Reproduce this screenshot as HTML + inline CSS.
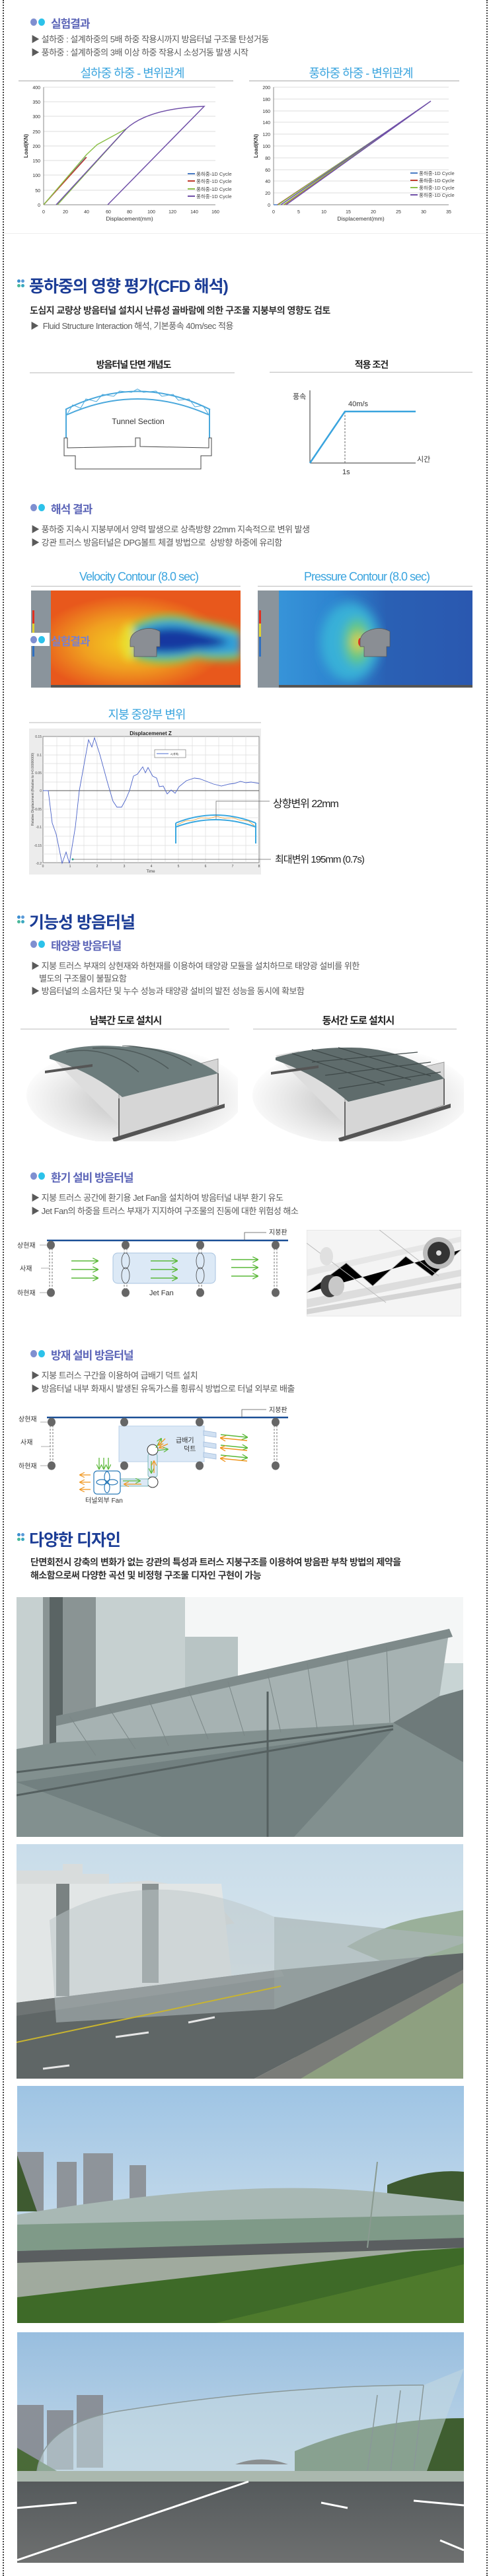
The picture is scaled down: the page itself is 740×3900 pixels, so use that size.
<!DOCTYPE html>
<html><head><meta charset="utf-8">
<style>
*{margin:0;padding:0;box-sizing:border-box}
body{width:740px;height:3900px;position:relative;background:#fff;font-family:"Liberation Sans","Noto Sans CJK KR",sans-serif;overflow:hidden}
.a{position:absolute;white-space:nowrap}
.bl{position:absolute;top:0;height:3900px;width:0;border-left:2px dotted #444}
.h1{font-size:25px;font-weight:bold;color:#1c3d96;letter-spacing:-1px}
.h2{font-size:17px;font-weight:bold;color:#5d66b8;letter-spacing:-1px}
.b{font-size:13px;color:#5a5a5a;letter-spacing:-0.5px}
.ct{font-size:18px;color:#3aa4de;letter-spacing:-1px;text-align:center}
.st{font-size:15px;color:#222;font-weight:bold;text-align:center;letter-spacing:-1px}
.pt{font-size:14px;color:#333;font-weight:bold;letter-spacing:-0.5px}
.d1{position:absolute;width:10px;height:11px;border-radius:50%;background:#7f8fd0}
.d2{position:absolute;width:10px;height:11px;border-radius:50%;background:#2cc2ea}
.q{position:absolute;width:5px;height:5px;border-radius:50%}
.ln{position:absolute;height:1px;background:#aaa}
.ln2{position:absolute;height:2px;background:#ddd}
</style></head><body>
<div class="bl" style="left:4px"></div>
<div class="bl" style="left:736px"></div>

<!-- 실험결과 -->
<div class="d1" style="left:46px;top:28px"></div><div class="d2" style="left:58px;top:28px"></div>
<div class="a h2" style="left:77px;top:22px">실험결과</div>
<div class="a b" style="left:47px;top:49px">▶ 설하중 : 설계하중의 5배 하중 작용시까지 방음터널 구조물 탄성거동</div>
<div class="a b" style="left:47px;top:69px">▶ 풍하중 : 설계하중의 3배 이상 하중 작용시 소성거동 발생 시작</div>
<div class="a ct" style="left:90px;width:220px;top:97px">설하중 하중 - 변위관계</div>
<div class="a ct" style="left:436px;width:220px;top:97px">풍하중 하중 - 변위관계</div>
<div class="ln" style="left:28px;width:325px;top:122px"></div>
<div class="ln" style="left:377px;width:318px;top:122px"></div>
<svg class="a" style="left:0;top:120px" width="740" height="230" viewBox="0 120 740 230" font-family="Liberation Sans,Noto Sans CJK KR,sans-serif">
<g stroke="#ddd" stroke-width="1">
<line x1="66" x2="326" y1="132" y2="132"/><line x1="66" x2="326" y1="154" y2="154"/><line x1="66" x2="326" y1="176" y2="176"/><line x1="66" x2="326" y1="199" y2="199"/><line x1="66" x2="326" y1="221" y2="221"/><line x1="66" x2="326" y1="243" y2="243"/><line x1="66" x2="326" y1="265" y2="265"/><line x1="66" x2="326" y1="288" y2="288"/>
<line x1="414" x2="679" y1="132" y2="132"/><line x1="414" x2="679" y1="150" y2="150"/><line x1="414" x2="679" y1="168" y2="168"/><line x1="414" x2="679" y1="185" y2="185"/><line x1="414" x2="679" y1="203" y2="203"/><line x1="414" x2="679" y1="221" y2="221"/><line x1="414" x2="679" y1="239" y2="239"/><line x1="414" x2="679" y1="257" y2="257"/><line x1="414" x2="679" y1="274" y2="274"/><line x1="414" x2="679" y1="292" y2="292"/>
</g>
<g stroke="#888" stroke-width="1"><line x1="66" x2="66" y1="132" y2="310"/><line x1="66" x2="326" y1="310" y2="310"/><line x1="414" x2="414" y1="132" y2="310"/><line x1="414" x2="679" y1="310" y2="310"/></g>
<g font-size="7" fill="#333" text-anchor="end">
<text x="61" y="135">400</text><text x="61" y="157">350</text><text x="61" y="179">300</text><text x="61" y="202">250</text><text x="61" y="224">200</text><text x="61" y="246">150</text><text x="61" y="268">100</text><text x="61" y="291">50</text><text x="61" y="313">0</text>
<text x="409" y="135">200</text><text x="409" y="153">180</text><text x="409" y="171">160</text><text x="409" y="188">140</text><text x="409" y="206">120</text><text x="409" y="224">100</text><text x="409" y="242">80</text><text x="409" y="260">60</text><text x="409" y="277">40</text><text x="409" y="295">20</text><text x="409" y="313">0</text>
</g>
<g font-size="7" fill="#333" text-anchor="middle">
<text x="66" y="323">0</text><text x="99" y="323">20</text><text x="131" y="323">40</text><text x="164" y="323">60</text><text x="196" y="323">80</text><text x="229" y="323">100</text><text x="261" y="323">120</text><text x="294" y="323">140</text><text x="326" y="323">160</text>
<text x="414" y="323">0</text><text x="452" y="323">5</text><text x="490" y="323">10</text><text x="527" y="323">15</text><text x="565" y="323">20</text><text x="603" y="323">25</text><text x="641" y="323">30</text><text x="679" y="323">35</text>
<text x="196" y="334" font-size="8.5">Displacement(mm)</text><text x="546" y="334" font-size="8.5">Displacement(mm)</text>
<text transform="translate(42,221) rotate(-90)" font-size="8" font-weight="bold">Load(KN)</text>
<text transform="translate(390,221) rotate(-90)" font-size="8" font-weight="bold">Load(KN)</text>
</g>
<g fill="none" stroke-width="1.5">
<polyline stroke="#4a7cc4" points="66,310 130,238"/>
<polyline stroke="#c0392b" points="66,310 131,238"/>
<polyline stroke="#8dc04a" points="66,310 131,234 147,219 191,195 87,310"/>
<path stroke="#7050a8" d="M85,310 L191,195 Q225,164 309,161 L163,310"/>
<polyline stroke="#4a7cc4" points="414,310 420,310 590,196"/>
<polyline stroke="#c0392b" points="420,310 592,195 430,310"/>
<polyline stroke="#8dc04a" points="421,310 596,192 429,310"/>
<polyline stroke="#7050a8" points="425,310 652,153 433,310"/>
</g>
<g font-size="7.5" fill="#444">
<line x1="284" x2="295" y1="263" y2="263" stroke="#4a7cc4" stroke-width="2"/><text x="297" y="266">풍하중-1D Cycle</text>
<line x1="284" x2="295" y1="274" y2="274" stroke="#c0392b" stroke-width="2"/><text x="297" y="277">풍하중-1D Cycle</text>
<line x1="284" x2="295" y1="286" y2="286" stroke="#8dc04a" stroke-width="2"/><text x="297" y="289">풍하중-1D Cycle</text>
<line x1="284" x2="295" y1="297" y2="297" stroke="#7050a8" stroke-width="2"/><text x="297" y="300">풍하중-1D Cycle</text>
<line x1="621" x2="632" y1="262" y2="262" stroke="#4a7cc4" stroke-width="2"/><text x="634" y="265">풍하중-1D Cycle</text>
<line x1="621" x2="632" y1="273" y2="273" stroke="#c0392b" stroke-width="2"/><text x="634" y="276">풍하중-1D Cycle</text>
<line x1="621" x2="632" y1="284" y2="284" stroke="#8dc04a" stroke-width="2"/><text x="634" y="287">풍하중-1D Cycle</text>
<line x1="621" x2="632" y1="295" y2="295" stroke="#7050a8" stroke-width="2"/><text x="634" y="298">풍하중-1D Cycle</text>
</g>
</svg>
<div class="ln" style="left:6px;width:730px;top:353px;background:#eee"></div>

<!-- CFD -->
<div class="q" style="left:26px;top:423px;background:#3d8fd0"></div><div class="q" style="left:32px;top:423px;background:#5a9ad8"></div>
<div class="q" style="left:26px;top:430px;background:#4ab89a"></div><div class="q" style="left:32px;top:430px;background:#3aa8c0"></div>
<div class="a h1" style="left:44px;top:414px">풍하중의 영향 평가(CFD 해석)</div>
<div class="a pt" style="left:45px;top:460px">도심지 교량상 방음터널 설치시 난류성 골바람에 의한 구조물 지붕부의 영향도 검토</div>
<div class="a b" style="left:46px;top:483px">▶&nbsp; Fluid Structure Interaction 해석, 기본풍속 40m/sec 적용</div>
<div class="a st" style="left:100px;width:204px;top:542px;font-size:14px">방음터널 단면 개념도</div>
<div class="a st" style="left:460px;width:204px;top:542px;font-size:14px">적용 조건</div>
<div class="ln" style="left:45px;width:310px;top:564px;background:#bbb"></div>
<div class="ln" style="left:408px;width:307px;top:563px;background:#bbb"></div>
<svg class="a" style="left:0;top:580px" width="740" height="150" viewBox="0 580 740 150" font-family="Liberation Sans,Noto Sans CJK KR,sans-serif">
<g fill="none" stroke="#4aa8dc" stroke-width="2">
<path d="M99,620 Q208,565 318,620"/><path d="M101,628 Q208,580 316,628"/>
<line x1="100" y1="620" x2="100" y2="663"/><line x1="317" y1="620" x2="317" y2="663"/>
<polyline stroke-width="1" points="101,628 110,613 122,618 130,604 146,608 155,597 172,600 181,592 199,594 208,589 217,594 236,592 245,600 262,597 270,606 286,604 295,616 307,614 316,628"/>
</g>
<path d="M97,663 V690 H114 V710 H304 V690 H320 V663 H316 V678 L212,676 V663 H205 V676 L102,678 V663 Z" fill="none" stroke="#444" stroke-width="1"/>
<text x="209" y="642" font-size="12" text-anchor="middle" fill="#333">Tunnel Section</text>
<g stroke="#333" stroke-width="1"><line x1="469" y1="591" x2="469" y2="701"/><line x1="469" y1="701" x2="629" y2="701"/></g>
<line x1="522" y1="623" x2="522" y2="701" stroke="#666" stroke-dasharray="3,2"/>
<polyline points="469,701 522,623 629,623" fill="none" stroke="#3aa4de" stroke-width="2.5"/>
<g font-size="11" fill="#333"><text x="443" y="604">풍속</text><text x="527" y="615">40m/s</text><text x="631" y="699">시간</text><text x="518" y="718">1s</text></g>
</svg>

<!-- 해석 결과 -->
<div class="d1" style="left:46px;top:763px"></div><div class="d2" style="left:58px;top:763px"></div>
<div class="a h2" style="left:77px;top:757px">해석 결과</div>
<div class="a b" style="left:47px;top:791px">▶ 풍하중 지속시 지붕부에서 양력 발생으로 상측방향 22mm 지속적으로 변위 발생</div>
<div class="a b" style="left:47px;top:811px">▶ 강관 트러스 방음터널은 DPG볼트 체결 방법으로&nbsp; 상방향 하중에 유리함</div>
<div class="a ct" style="left:80px;width:260px;top:863px">Velocity Contour (8.0 sec)</div>
<div class="a ct" style="left:425px;width:260px;top:863px">Pressure Contour (8.0 sec)</div>
<div class="ln" style="left:47px;width:317px;top:887px;background:#bbb"></div>
<div class="ln" style="left:390px;width:325px;top:887px;background:#bbb"></div>
<svg class="a" style="left:47px;top:894px" width="317" height="147" viewBox="0 0 317 147">
<defs><filter id="bl1"><feGaussianBlur stdDeviation="6"/></filter>
<radialGradient id="vg" cx="0.42" cy="0.55" r="0.5"><stop offset="0" stop-color="#f3d020"/><stop offset="0.5" stop-color="#f0a020"/><stop offset="1" stop-color="#e8581c"/></radialGradient></defs>
<rect width="317" height="147" fill="#e8561c"/>
<rect x="30" width="287" height="147" fill="url(#vg)"/>
<g filter="url(#bl1)">
<path d="M148,55 Q200,25 250,45 Q290,50 317,60 V105 Q280,110 250,102 Q200,120 150,100 Z" fill="#7ac850"/>
<path d="M155,60 Q200,35 250,52 Q290,60 317,68 V95 Q280,100 250,95 Q200,108 155,95 Z" fill="#30a0d8"/>
<path d="M165,65 Q210,50 250,62 Q285,70 300,78 Q280,88 250,88 Q210,98 165,90 Z" fill="#1838a0"/>
<ellipse cx="148" cy="78" rx="10" ry="28" fill="#e8e030"/>
</g>
<rect width="30" height="147" fill="#8a949c"/>
<rect x="2" y="30" width="3" height="70" fill="#3070c0"/><rect x="2" y="30" width="3" height="25" fill="#e03020"/><rect x="2" y="50" width="3" height="20" fill="#e0d030"/><rect x="2" y="65" width="3" height="15" fill="#40c060"/>
<path d="M150,75 Q152,62 172,58 Q185,56 195,62 V85 H190 V100 H156 V85 H150 Z" fill="#8a8e94" stroke="#555" stroke-width="0.7"/>
<rect x="30" y="143" width="287" height="4" fill="#555"/>
</svg>
<svg class="a" style="left:390px;top:894px" width="325" height="147" viewBox="0 0 325 147">
<defs><filter id="bl2"><feGaussianBlur stdDeviation="8"/></filter>
<linearGradient id="pg" x1="0" x2="1"><stop offset="0" stop-color="#3a9adc"/><stop offset="0.35" stop-color="#2e84d0"/><stop offset="0.6" stop-color="#2a60b4"/><stop offset="1" stop-color="#2a58b0"/></linearGradient></defs>
<rect width="325" height="147" fill="url(#pg)"/>
<g filter="url(#bl2)"><ellipse cx="140" cy="78" rx="45" ry="60" fill="#38b0d8"/><ellipse cx="150" cy="78" rx="20" ry="35" fill="#60c880"/><ellipse cx="152" cy="78" rx="8" ry="14" fill="#f0d020"/></g>
<ellipse cx="155" cy="78" rx="3" ry="6" fill="#e03020"/>
<rect width="32" height="147" fill="#8a949c"/>
<rect x="2" y="30" width="3" height="70" fill="#3070c0"/><rect x="2" y="30" width="3" height="25" fill="#e03020"/><rect x="2" y="50" width="3" height="20" fill="#e0d030"/>
<path d="M155,75 Q157,62 177,58 Q190,56 200,62 V85 H195 V100 H161 V85 H155 Z" fill="#8a8e94" stroke="#555" stroke-width="0.7"/>
<rect x="32" y="143" width="293" height="4" fill="#555"/>
</svg>
<div class="a" style="left:46px;top:958px;width:29px;height:20px;background:#fff"></div>
<div class="d1" style="left:46px;top:963px"></div><div class="d2" style="left:58px;top:963px"></div>
<div class="a h2" style="left:77px;top:957px;color:#7a80cc">실험결과</div>

<!-- 지붕 중앙부 변위 -->
<div class="a ct" style="left:112px;width:220px;top:1068px">지붕 중앙부 변위</div>
<div class="ln2" style="left:44px;width:351px;top:1093px"></div>
<svg class="a" style="left:44px;top:1103px" width="370" height="222" viewBox="44 1103 370 222" font-family="Liberation Sans,sans-serif">
<rect x="44" y="1103" width="351" height="221" fill="#ececec"/>
<rect x="65" y="1115" width="327" height="191" fill="#fff" stroke="#888"/>
<g stroke="#ddd" stroke-width="0.7">
<line x1="86" x2="86" y1="1115" y2="1306"/><line x1="106" x2="106" y1="1115" y2="1306"/><line x1="127" x2="127" y1="1115" y2="1306"/><line x1="147" x2="147" y1="1115" y2="1306"/><line x1="168" x2="168" y1="1115" y2="1306"/><line x1="188" x2="188" y1="1115" y2="1306"/><line x1="209" x2="209" y1="1115" y2="1306"/><line x1="229" x2="229" y1="1115" y2="1306"/><line x1="250" x2="250" y1="1115" y2="1306"/><line x1="270" x2="270" y1="1115" y2="1306"/><line x1="291" x2="291" y1="1115" y2="1306"/><line x1="311" x2="311" y1="1115" y2="1306"/><line x1="331" x2="331" y1="1115" y2="1306"/><line x1="352" x2="352" y1="1115" y2="1306"/><line x1="372" x2="372" y1="1115" y2="1306"/>
<line x1="65" x2="392" y1="1129" y2="1129"/><line x1="65" x2="392" y1="1143" y2="1143"/><line x1="65" x2="392" y1="1156" y2="1156"/><line x1="65" x2="392" y1="1170" y2="1170"/><line x1="65" x2="392" y1="1184" y2="1184"/><line x1="65" x2="392" y1="1211" y2="1211"/><line x1="65" x2="392" y1="1225" y2="1225"/><line x1="65" x2="392" y1="1238" y2="1238"/><line x1="65" x2="392" y1="1252" y2="1252"/><line x1="65" x2="392" y1="1266" y2="1266"/><line x1="65" x2="392" y1="1280" y2="1280"/><line x1="65" x2="392" y1="1293" y2="1293"/>
</g>
<line x1="65" x2="392" y1="1197" y2="1197" stroke="#555"/>
<text x="228" y="1113" font-size="8" text-anchor="middle" font-weight="bold" fill="#222">Displacemenet Z</text>
<g font-size="5" fill="#444" text-anchor="end"><text x="63" y="1117">0.15</text><text x="63" y="1145">0.1</text><text x="63" y="1172">0.05</text><text x="63" y="1199">0</text><text x="63" y="1227">-0.05</text><text x="63" y="1254">-0.1</text><text x="63" y="1282">-0.15</text><text x="63" y="1309">-0.2</text></g>
<g font-size="5" fill="#444" text-anchor="middle"><text x="65" y="1313">0</text><text x="106" y="1313">1</text><text x="147" y="1313">2</text><text x="188" y="1313">3</text><text x="229" y="1313">4</text><text x="270" y="1313">5</text><text x="311" y="1313">6</text><text x="352" y="1313">7</text><text x="392" y="1313">8</text><text x="228" y="1321" font-size="6">Time</text></g>
<text transform="translate(51,1250) rotate(-90)" font-size="5" fill="#444">Relative Displacement (Relative to t=0.00000000)</text>
<rect x="234" y="1135" width="47" height="12" fill="#fff" stroke="#666" stroke-width="0.6"/>
<line x1="237" x2="255" y1="1141" y2="1141" stroke="#4a6ad0"/><text x="258" y="1143" font-size="4" fill="#333">Z(개체)</text>
<polyline fill="none" stroke="#4a62c8" stroke-width="0.9" points="65,1197 73,1197 79,1246 85,1263 94,1307 100,1290 105,1307 114,1252 120,1197 126,1164 134,1120 139,1131 143,1117 151,1142 163,1186 171,1213 177,1222 184,1222 190,1211 196,1197 202,1175 208,1172 216,1161 220,1170 224,1162 231,1175 237,1178 241,1191 247,1190 253,1202 259,1196 265,1201 271,1191 282,1182 294,1178 302,1179 310,1182 323,1187 335,1190 347,1187 355,1186 364,1183 372,1185 380,1184 392,1186"/>
<g fill="none" stroke="#3aa8e0" stroke-width="2"><path d="M266,1246 Q326,1222 387,1246"/><path d="M266,1252 Q326,1230 387,1252"/><line x1="266" y1="1246" x2="266" y2="1277"/><line x1="387" y1="1246" x2="387" y2="1277"/></g>
<polyline fill="none" stroke="#f0a030" stroke-width="0.8" points="268,1249 280,1243 292,1242 304,1238 316,1239 328,1236 340,1239 352,1238 364,1242 376,1243 385,1250"/>
<polyline fill="none" stroke="#666" stroke-width="0.7" points="327,1240 327,1213 408,1213"/>
<line x1="110" y1="1301" x2="410" y2="1301" stroke="#666" stroke-width="0.7"/><circle cx="110" cy="1301" r="1.5" fill="#2a9a8a"/>
</svg>
<div class="a" style="left:413px;top:1203px;font-size:16px;color:#222;letter-spacing:-1px">상향변위 22mm</div>
<div class="a" style="left:416px;top:1290px;font-size:15px;color:#222;letter-spacing:-1px">최대변위 195mm (0.7s)</div>

<!-- 기능성 방음터널 -->
<div class="q" style="left:26px;top:1386px;background:#3d8fd0"></div><div class="q" style="left:32px;top:1386px;background:#5a9ad8"></div>
<div class="q" style="left:26px;top:1393px;background:#4ab89a"></div><div class="q" style="left:32px;top:1393px;background:#3aa8c0"></div>
<div class="a h1" style="left:44px;top:1377px">기능성 방음터널</div>
<div class="d1" style="left:46px;top:1424px"></div><div class="d2" style="left:58px;top:1424px"></div>
<div class="a h2" style="left:77px;top:1418px">태양광 방음터널</div>
<div class="a b" style="left:47px;top:1452px">▶ 지붕 트러스 부재의 상현재와 하현재를 이용하여 태양광 모듈을 설치하므로 태양광 설비를 위한</div>
<div class="a b" style="left:59px;top:1471px">별도의 구조물이 불필요함</div>
<div class="a b" style="left:47px;top:1490px">▶ 방음터널의 소음차단 및 누수 성능과 태양광 설비의 발전 성능을 동시에 확보함</div>
<div class="a st" style="left:90px;width:200px;top:1534px">남북간 도로 설치시</div>
<div class="a st" style="left:442px;width:200px;top:1534px">동서간 도로 설치시</div>
<div class="ln2" style="left:31px;width:316px;top:1557px"></div>
<div class="ln2" style="left:383px;width:308px;top:1557px"></div>
<svg class="a" style="left:40px;top:1583px" width="320" height="145" viewBox="0 0 320 145">
<defs><radialGradient id="sh" cx="0.5" cy="0.55" r="0.55"><stop offset="0" stop-color="#bbb"/><stop offset="0.6" stop-color="#e6e6e6"/><stop offset="1" stop-color="#fff"/></radialGradient></defs>
<ellipse cx="165" cy="75" rx="165" ry="75" fill="url(#sh)"/>
<path d="M35,15 L70,8 L155,70 L140,120 Z" fill="#ddd"/>
<path d="M140,60 L290,20 L290,90 L140,140 Z" fill="#d6d6d6" stroke="#888" stroke-width="0.8"/>
<path d="M35,15 Q80,-5 150,2 Q220,0 280,35 L290,42 L145,78 Q100,40 35,20 Z" fill="#6c7c7c"/>
<path d="M60,10 Q120,-2 170,40 M100,4 Q170,0 215,35 M145,0 Q210,3 250,30" stroke="#4e5a5a" fill="none" stroke-width="1.5"/>
<line x1="140" y1="80" x2="140" y2="140" stroke="#666" stroke-width="2"/><line x1="290" y1="42" x2="290" y2="90" stroke="#666" stroke-width="2"/>
<path d="M130,140 L300,88 L300,94 L132,146 Z" fill="#555"/>
<path d="M28,38 L100,28 L100,32 L28,42 Z" fill="#555"/>
</svg>
<svg class="a" style="left:382px;top:1583px" width="320" height="145" viewBox="0 0 320 145">
<ellipse cx="165" cy="75" rx="165" ry="75" fill="url(#sh)"/>
<path d="M35,15 L70,8 L155,70 L140,120 Z" fill="#ddd"/>
<path d="M140,60 L290,25 L290,90 L140,140 Z" fill="#d6d6d6" stroke="#888" stroke-width="0.8"/>
<path d="M35,18 Q90,2 150,3 Q220,3 285,45 L290,50 L145,85 Q100,45 35,22 Z" fill="#5f6c6c"/>
<path d="M60,12 L200,60 M90,6 L240,52 M130,3 L270,46 M90,25 L250,10 M110,45 L270,25 M130,65 L285,40" stroke="#3e4848" fill="none" stroke-width="1.2"/>
<line x1="140" y1="85" x2="140" y2="140" stroke="#666" stroke-width="2"/><line x1="290" y1="50" x2="290" y2="90" stroke="#666" stroke-width="2"/>
<path d="M130,140 L300,88 L300,94 L132,146 Z" fill="#555"/>
<path d="M28,40 L100,30 L100,34 L28,44 Z" fill="#555"/>
</svg>

<!-- 환기 -->
<div class="d1" style="left:46px;top:1775px"></div><div class="d2" style="left:58px;top:1775px"></div>
<div class="a h2" style="left:77px;top:1769px">환기 설비 방음터널</div>
<div class="a b" style="left:47px;top:1803px">▶ 지붕 트러스 공간에 환기용 Jet Fan을 설치하여 방음터널 내부 환기 유도</div>
<div class="a b" style="left:47px;top:1823px">▶ Jet Fan의 하중을 트러스 부재가 지지하여 구조물의 진동에 대한 위험성 해소</div>
<svg class="a" style="left:0;top:1858px" width="460" height="110" viewBox="0 1858 460 110" font-family="Liberation Sans,Noto Sans CJK KR,sans-serif">
<defs><marker id="ga" viewBox="0 0 10 10" refX="9" refY="5" markerWidth="6" markerHeight="6" orient="auto"><path d="M0,0 L10,5 L0,10" fill="none" stroke="#5ab838" stroke-width="1.5"/></marker></defs>
<line x1="71" y1="1878" x2="436" y2="1878" stroke="#1a4f96" stroke-width="2.5"/>
<polyline points="370,1878 370,1866 403,1866" fill="none" stroke="#555" stroke-width="0.8"/>
<text x="407" y="1869" font-size="10" fill="#333">지붕판</text>
<g stroke="#555" stroke-width="0.8" stroke-dasharray="3,2"><line x1="75" x2="75" y1="1885" y2="1957"/><line x1="79" x2="79" y1="1885" y2="1957"/><line x1="188" x2="188" y1="1885" y2="1957"/><line x1="192" x2="192" y1="1885" y2="1957"/><line x1="301" x2="301" y1="1885" y2="1957"/><line x1="305" x2="305" y1="1885" y2="1957"/><line x1="415" x2="415" y1="1885" y2="1957"/><line x1="419" x2="419" y1="1885" y2="1957"/></g>
<rect x="171" y="1897" width="155" height="46" rx="7" fill="#dce9f6" stroke="#a8c4e0"/>
<g fill="none" stroke="#444" stroke-width="0.8"><ellipse cx="190" cy="1909" rx="6" ry="12"/><ellipse cx="190" cy="1931" rx="6" ry="12"/><ellipse cx="303" cy="1909" rx="6" ry="12"/><ellipse cx="303" cy="1931" rx="6" ry="12"/></g>
<g fill="#666"><ellipse cx="77" cy="1885" rx="6" ry="6.5"/><ellipse cx="190" cy="1885" rx="6" ry="6.5"/><ellipse cx="303" cy="1885" rx="6" ry="6.5"/><ellipse cx="417" cy="1885" rx="6" ry="6.5"/><ellipse cx="77" cy="1957" rx="6" ry="6.5"/><ellipse cx="190" cy="1957" rx="6" ry="6.5"/><ellipse cx="303" cy="1957" rx="6" ry="6.5"/><ellipse cx="417" cy="1957" rx="6" ry="6.5"/></g>
<g stroke="#5ab838" stroke-width="1.5" marker-end="url(#ga)"><line x1="108" x2="148" y1="1909" y2="1909"/><line x1="108" x2="148" y1="1922" y2="1922"/><line x1="108" x2="148" y1="1935" y2="1935"/><line x1="228" x2="268" y1="1909" y2="1909"/><line x1="228" x2="268" y1="1922" y2="1922"/><line x1="228" x2="268" y1="1935" y2="1935"/><line x1="350" x2="390" y1="1907" y2="1907"/><line x1="350" x2="390" y1="1919" y2="1919"/><line x1="350" x2="390" y1="1932" y2="1932"/></g>
<g stroke="#777" stroke-width="0.6"><line x1="60" x2="71" y1="1885" y2="1885"/><line x1="62" x2="75" y1="1920" y2="1920"/><line x1="60" x2="71" y1="1957" y2="1957"/></g>
<g font-size="10" fill="#333"><text x="26" y="1889">상현재</text><text x="30" y="1924">사재</text><text x="26" y="1961">하현재</text><text x="226" y="1961" font-size="11">Jet Fan</text></g>
</svg>
<svg class="a" style="left:464px;top:1862px" width="234" height="131" viewBox="0 0 234 131">
<rect width="234" height="131" fill="#f4f4f4" stroke="#ddd"/>
<path d="M0,105 L234,60 L234,70 L0,118 Z" fill="#ddd"/><path d="M0,120 L234,80 L234,88 L0,128 Z" fill="#d4d4d4"/>
<path d="M0,60 L234,10 L234,18 L0,70 Z" fill="#e6e6e6"/>
<g stroke="#bbb" stroke-width="1"><path d="M0,95 L60,50 L100,85 L150,40 L190,70 L234,30"/><path d="M0,20 L120,110 M110,0 L200,70"/></g>
<circle cx="200" cy="35" r="24" fill="#bbb"/><circle cx="200" cy="35" r="17" fill="#333"/><circle cx="200" cy="35" r="4" fill="#ddd"/>
<ellipse cx="35" cy="85" rx="14" ry="17" fill="#444"/><ellipse cx="45" cy="85" rx="12" ry="15" fill="#c8c8c8"/>
<ellipse cx="30" cy="40" rx="10" ry="14" fill="#e0e0e0"/>
</svg>

<!-- 방재 -->
<div class="d1" style="left:46px;top:2044px"></div><div class="d2" style="left:58px;top:2044px"></div>
<div class="a h2" style="left:77px;top:2038px">방재 설비 방음터널</div>
<div class="a b" style="left:47px;top:2072px">▶ 지붕 트러스 구간을 이용하여 급배기 덕트 설치</div>
<div class="a b" style="left:47px;top:2092px">▶ 방음터널 내부 화재시 발생된 유독가스를 횡류식 방법으로 터널 외부로 배출</div>
<svg class="a" style="left:0;top:2128px" width="460" height="152" viewBox="0 2128 460 152" font-family="Liberation Sans,Noto Sans CJK KR,sans-serif">
<defs><marker id="oa" viewBox="0 0 10 10" refX="9" refY="5" markerWidth="6" markerHeight="6" orient="auto"><path d="M0,0 L10,5 L0,10" fill="none" stroke="#f0961e" stroke-width="1.5"/></marker></defs>
<line x1="71" y1="2146" x2="436" y2="2146" stroke="#1a4f96" stroke-width="2.5"/>
<polyline points="366,2146 366,2134 403,2134" fill="none" stroke="#555" stroke-width="0.8"/>
<text x="407" y="2138" font-size="10" fill="#333">지붕판</text>
<g stroke="#555" stroke-width="0.8" stroke-dasharray="3,2"><line x1="76" x2="76" y1="2153" y2="2219"/><line x1="80" x2="80" y1="2153" y2="2219"/><line x1="415" x2="415" y1="2153" y2="2219"/><line x1="419" x2="419" y1="2153" y2="2219"/></g>
<rect x="180" y="2159" width="129" height="54" fill="#dce9f6" stroke="#b8d0e8"/>
<g fill="#d0e0f2" stroke="#a0bcdc" stroke-width="0.8"><path d="M308,2166 L327,2169 L327,2176 L308,2173 Z"/><path d="M308,2183 L327,2186 L327,2193 L308,2190 Z"/><path d="M308,2199 L327,2202 L327,2209 L308,2206 Z"/></g>
<g stroke-width="1.5"><line x1="334" y1="2172" x2="374" y2="2176" stroke="#5ab838" marker-end="url(#ga)"/><line x1="374" y1="2181" x2="334" y2="2177" stroke="#f0961e" marker-end="url(#oa)"/><line x1="334" y1="2188" x2="374" y2="2192" stroke="#5ab838" marker-end="url(#ga)"/><line x1="374" y1="2196" x2="334" y2="2192" stroke="#f0961e" marker-end="url(#oa)"/><line x1="334" y1="2203" x2="374" y2="2207" stroke="#5ab838" marker-end="url(#ga)"/><line x1="374" y1="2212" x2="334" y2="2208" stroke="#f0961e" marker-end="url(#oa)"/></g>
<rect x="224" y="2201" width="14" height="35" rx="3" fill="#dce9f6" stroke="#7ab8b8"/>
<circle cx="231" cy="2195" r="8" fill="#fff" stroke="#333"/><circle cx="231" cy="2244" r="8" fill="#fff" stroke="#333"/>
<g stroke-width="1.3"><line x1="236" y1="2192" x2="244" y2="2178" stroke="#5ab838" marker-end="url(#ga)"/><line x1="238" y1="2196" x2="254" y2="2194" stroke="#5ab838" marker-end="url(#ga)"/><line x1="250" y1="2178" x2="240" y2="2188" stroke="#f0961e" marker-end="url(#oa)"/><line x1="254" y1="2186" x2="241" y2="2192" stroke="#f0961e" marker-end="url(#oa)"/><line x1="229" y1="2212" x2="229" y2="2230" stroke="#5ab838" marker-end="url(#ga)"/><line x1="233" y1="2230" x2="233" y2="2212" stroke="#f0961e" marker-end="url(#oa)"/></g>
<rect x="182" y="2239" width="42" height="11" fill="#dce9f6" stroke="#7ab8b8"/>
<line x1="186" y1="2242" x2="212" y2="2242" stroke="#5ab838" stroke-width="1.3" marker-end="url(#ga)"/><line x1="214" y1="2247" x2="188" y2="2247" stroke="#f0961e" stroke-width="1.3" marker-end="url(#oa)"/>
<rect x="142" y="2227" width="40" height="35" rx="5" fill="#fff" stroke="#2a7ab8" stroke-width="1.2"/>
<g fill="none" stroke="#2a7ab8" stroke-width="1.2"><ellipse cx="162" cy="2236" rx="4" ry="8"/><ellipse cx="162" cy="2252" rx="4" ry="8"/><ellipse cx="154" cy="2244" rx="8" ry="4"/><ellipse cx="170" cy="2244" rx="8" ry="4"/></g>
<g stroke="#5ab838" stroke-width="1.3"><line x1="150" y1="2207" x2="150" y2="2224" marker-end="url(#ga)"/><line x1="157" y1="2207" x2="157" y2="2224" marker-end="url(#ga)"/><line x1="164" y1="2207" x2="164" y2="2224" marker-end="url(#ga)"/></g>
<g stroke="#f0961e" stroke-width="1.3"><line x1="137" y1="2233" x2="121" y2="2233" marker-end="url(#oa)"/><line x1="137" y1="2244" x2="121" y2="2244" marker-end="url(#oa)"/><line x1="137" y1="2255" x2="121" y2="2255" marker-end="url(#oa)"/></g>
<g fill="#666"><ellipse cx="78" cy="2153" rx="6" ry="6.5"/><ellipse cx="188" cy="2153" rx="6" ry="6.5"/><ellipse cx="302" cy="2153" rx="6" ry="6.5"/><ellipse cx="417" cy="2153" rx="6" ry="6.5"/><ellipse cx="78" cy="2219" rx="6" ry="6.5"/><ellipse cx="188" cy="2219" rx="6" ry="6.5"/><ellipse cx="302" cy="2219" rx="6" ry="6.5"/><ellipse cx="417" cy="2219" rx="6" ry="6.5"/></g>
<g stroke="#777" stroke-width="0.6"><line x1="61" x2="72" y1="2153" y2="2153"/><line x1="62" x2="76" y1="2190" y2="2190"/><line x1="61" x2="72" y1="2219" y2="2219"/></g>
<g font-size="10" fill="#333"><text x="28" y="2152">상현재</text><text x="31" y="2187">사재</text><text x="28" y="2223">하현재</text><text x="266" y="2184">급배기</text><text x="278" y="2197">덕트</text><text x="129" y="2275">터널외부 Fan</text></g>
</svg>

<!-- 다양한 디자인 -->
<div class="q" style="left:26px;top:2321px;background:#3d8fd0"></div><div class="q" style="left:32px;top:2321px;background:#5a9ad8"></div>
<div class="q" style="left:26px;top:2328px;background:#4ab89a"></div><div class="q" style="left:32px;top:2328px;background:#3aa8c0"></div>
<div class="a h1" style="left:44px;top:2312px">다양한 디자인</div>
<div class="a pt" style="left:46px;top:2355px">단면회전시 강축의 변화가 없는 강관의 특성과 트러스 지붕구조를 이용하여 방음판 부착 방법의 제약을</div>
<div class="a pt" style="left:46px;top:2375px">해소함으로써 다양한 곡선 및 비정형 구조물 디자인 구현이 가능</div>

<!-- Photo 1 -->
<svg class="a" style="left:25px;top:2418px" width="676" height="363" viewBox="0 0 676 363">
<rect width="676" height="363" fill="#f4f6f6"/>
<rect x="0" y="0" width="255" height="300" fill="#c6d0d0"/><rect x="40" y="0" width="80" height="300" fill="#8a9494"/><rect x="50" y="0" width="20" height="300" fill="#5a6464"/>
<rect x="255" y="60" width="80" height="100" fill="#b8c4c4"/><rect x="640" y="100" width="36" height="140" fill="#c8d4d4"/>
<path d="M60,180 L655,48 L640,150 L570,190 L60,230 Z" fill="#a6b2b2"/>
<path d="M60,180 L655,48 L660,60 L60,195 Z" fill="#7e8a8a"/>
<path d="M60,220 L570,190 L620,210 L676,250 L676,363 L0,363 L0,230 Z" fill="#82908f"/>
<path d="M570,190 L640,150 L676,140 L676,250 Z" fill="#6e7a7a"/>
<path d="M0,280 L570,200 L420,363 L220,363 Z" fill="#728080"/>
<g stroke="#556060" stroke-width="3"><line x1="0" y1="265" x2="570" y2="195"/><line x1="0" y1="300" x2="570" y2="200"/><line x1="380" y1="143" x2="380" y2="363"/></g>
<g stroke="#7a8686" stroke-width="1" fill="none"><path d="M80,180 L120,240 M140,168 L180,230 M200,155 L230,225 M260,140 L290,215 M320,128 L345,210 M380,115 L400,205 M440,100 L455,200 M500,88 L510,195 M560,75 L565,190"/></g>
</svg>
<!-- Photo 2 -->
<svg class="a" style="left:25px;top:2792px" width="676" height="355" viewBox="0 0 676 355">
<defs><linearGradient id="s2" x1="0" y1="0" x2="0" y2="1"><stop offset="0" stop-color="#c8dcea"/><stop offset="1" stop-color="#e6eeee"/></linearGradient></defs>
<rect width="676" height="355" fill="url(#s2)"/>
<path d="M0,40 L70,40 L70,30 L100,30 L100,45 L140,45 L140,60 L200,55 L230,60 L260,75 L300,85 L330,120 L0,170 Z" fill="#d8dcdc"/>
<path d="M0,60 L310,60 L330,240 L0,240 Z" fill="#e2e6e6"/><rect x="60" y="60" width="20" height="170" fill="#7a8282"/><rect x="190" y="60" width="25" height="150" fill="#8a9292"/>
<path d="M500,155 Q560,120 620,110 L676,100 L676,230 Z" fill="#9ab09a"/>
<path d="M400,240 L676,180 L676,355 L430,355 Z" fill="#8ea080"/>
<path d="M0,240 L400,190 L676,165 L676,190 L360,355 L0,355 Z" fill="#5f6666"/>
<path d="M0,240 L400,190 L405,200 L0,260 Z" fill="#6e7474"/>
<path d="M360,355 L676,190 L676,210 L430,355 Z" fill="#7a7c78"/>
<path d="M50,115 Q200,25 390,110 L390,250 L60,270 Z" fill="#bcc6c8" opacity="0.5"/>
<path d="M390,110 L676,140 L676,150 L390,250 Z" fill="#aab6b6" opacity="0.7"/>
<g stroke="#e6e6e6" stroke-width="3"><line x1="80" y1="335" x2="40" y2="340"/><line x1="200" y1="285" x2="150" y2="292"/><line x1="300" y1="262" x2="260" y2="270"/></g>
<line x1="0" y1="300" x2="400" y2="215" stroke="#c8b430" stroke-width="2"/>
</svg>
<!-- Photo 3 -->
<svg class="a" style="left:26px;top:3158px" width="676" height="359" viewBox="0 0 676 359">
<defs><linearGradient id="s3" x1="0" y1="0" x2="0" y2="1"><stop offset="0" stop-color="#9ec4e4"/><stop offset="1" stop-color="#dfe9ef"/></linearGradient></defs>
<rect width="676" height="359" fill="url(#s3)"/>
<g fill="#8e949a"><rect x="0" y="100" width="40" height="90"/><rect x="60" y="115" width="30" height="75"/><rect x="100" y="102" width="45" height="90"/><rect x="170" y="120" width="25" height="70"/></g>
<path d="M0,105 L0,190 L30,190 Z M560,150 Q620,125 676,130 L676,200 L560,200 Z" fill="#3e5a30"/>
<path d="M0,195 Q320,140 540,160 L676,175 L676,230 L0,240 Z" fill="#a8b8b4"/>
<path d="M0,210 L676,195 L676,240 L0,250 Z" fill="#7f9a88"/>
<path d="M0,250 L676,230 L676,260 L0,268 Z" fill="#5a5e60"/>
<path d="M0,268 L676,245 L676,359 L0,359 Z" fill="#4e7a2c"/>
<path d="M0,268 L676,245 L676,260 L120,359 L0,359 Z" fill="#a0aa9e"/>
<path d="M0,320 L600,250 L676,245 L676,270 L300,359 L0,359 Z" fill="#3e6a28"/>
<line x1="545" y1="115" x2="530" y2="245" stroke="#8a9a90" stroke-width="2"/>
</svg>
<!-- Photo 4 -->
<svg class="a" style="left:26px;top:3531px" width="676" height="349" viewBox="0 0 676 349">
<defs><linearGradient id="s4" x1="0" y1="0" x2="0" y2="1"><stop offset="0" stop-color="#98bedf"/><stop offset="1" stop-color="#dfeaef"/></linearGradient>
<linearGradient id="r4" x1="0" y1="0" x2="0" y2="1"><stop offset="0" stop-color="#555a5c"/><stop offset="1" stop-color="#6e7070"/></linearGradient></defs>
<rect width="676" height="349" fill="url(#s4)"/>
<g fill="#8a9098"><rect x="0" y="110" width="40" height="100"/><rect x="45" y="118" width="40" height="90"/><rect x="90" y="95" width="40" height="110"/></g>
<path d="M420,180 Q540,130 676,130 L676,210 L420,210 Z" fill="#3f5e30"/>
<path d="M0,175 L0,210 L60,210 Z" fill="#4a6a38"/>
<path d="M30,210 Q40,140 150,120 Q400,80 615,80 L676,55 L620,210 Z" fill="#c4d8e0" opacity="0.55"/>
<path d="M330,200 Q370,185 410,200 Z" fill="#8a8e90"/>
<g stroke="#8a9898" stroke-width="1.5" fill="none"><path d="M30,210 Q40,140 150,120 Q400,80 615,80"/><line x1="615" y1="80" x2="600" y2="210"/><line x1="580" y1="88" x2="565" y2="210"/><line x1="545" y1="95" x2="530" y2="210"/></g>
<rect x="0" y="210" width="676" height="16" fill="#aab8ae"/>
<path d="M0,226 L676,226 L676,349 L0,349 Z" fill="url(#r4)"/>
<g stroke="#fff" stroke-width="3"><line x1="350" y1="226" x2="0" y2="345"/><line x1="90" y1="258" x2="0" y2="266"/><line x1="460" y1="258" x2="500" y2="266"/><line x1="600" y1="255" x2="676" y2="262"/><line x1="640" y1="315" x2="676" y2="330"/></g>
</svg>
</body></html>
